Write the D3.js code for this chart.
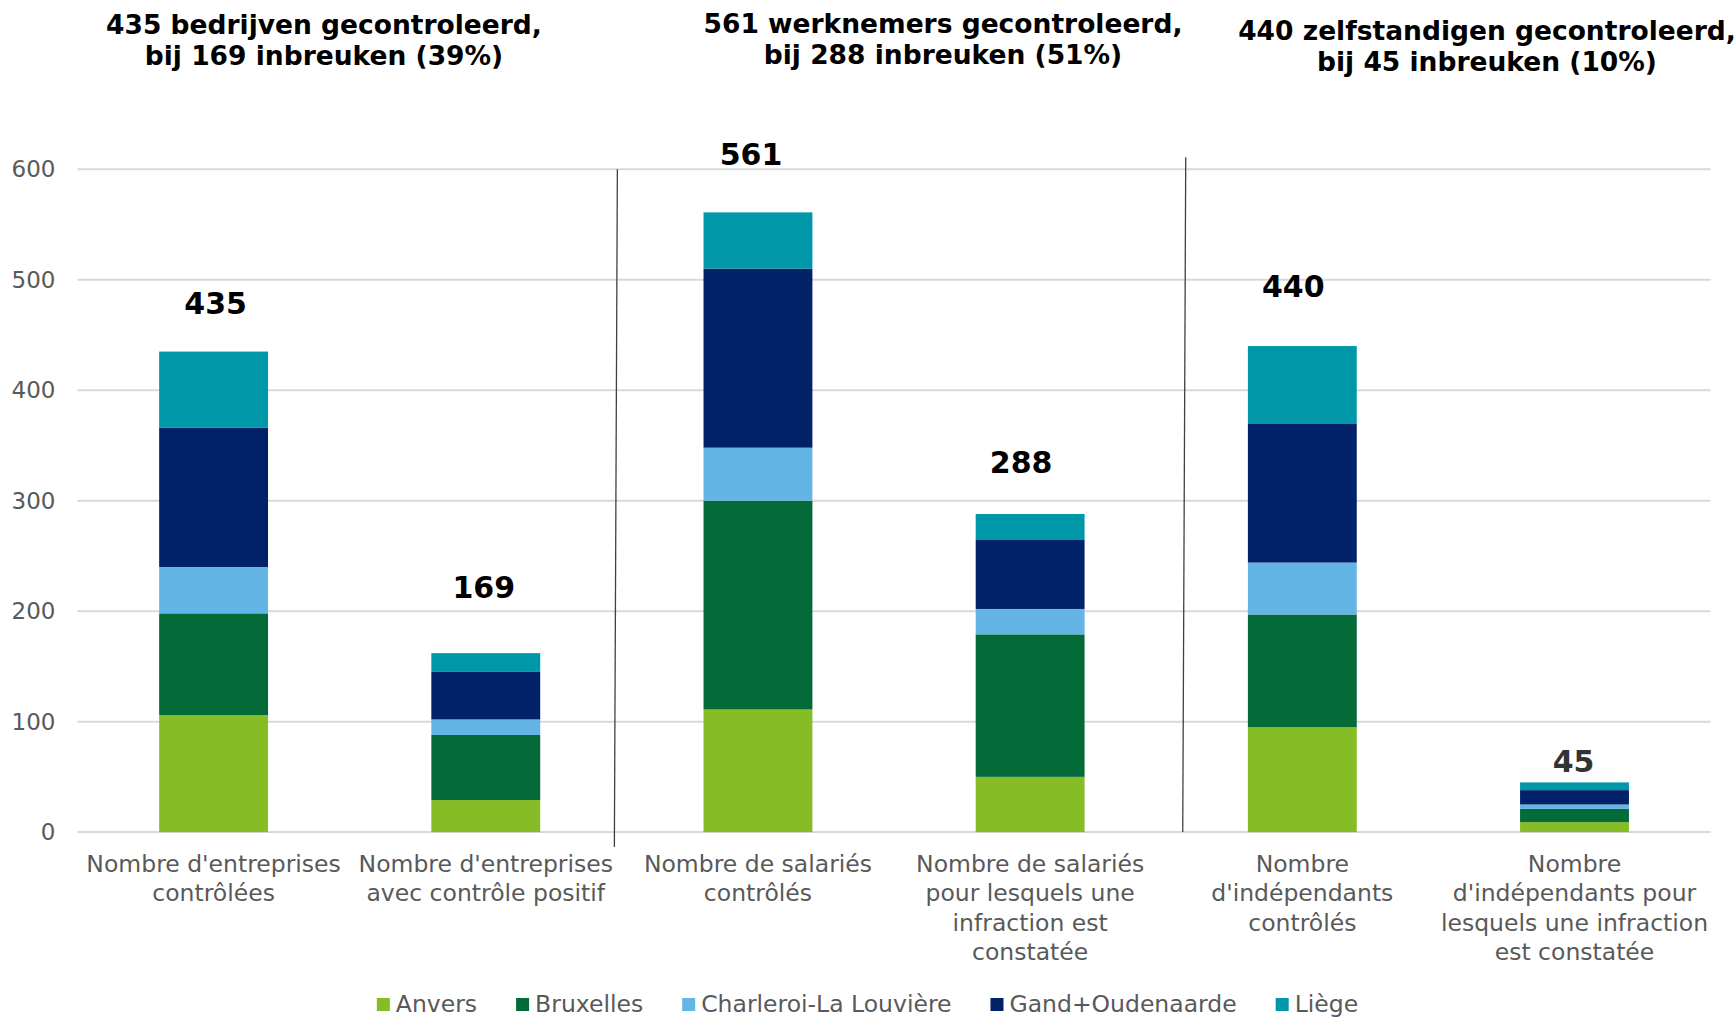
<!DOCTYPE html>
<html>
<head>
<meta charset="utf-8">
<script src="https://cdn.jsdelivr.net/npm/d3@7"></script>
<style>
  body { margin: 0; background: #fff; }
  svg { display: block; font-family: Verdana, "DejaVu Sans", sans-serif; }
</style>
</head>
<body>
<div id="chart"></div>
<script>
// categories (x axis), one line per array item
var categories = [
  ["Nombre d'entreprises", "contrôlées"],
  ["Nombre d'entreprises", "avec contrôle positif"],
  ["Nombre de salariés", "contrôlés"],
  ["Nombre de salariés", "pour lesquels une", "infraction est", "constatée"],
  ["Nombre", "d'indépendants", "contrôlés"],
  ["Nombre", "d'indépendants pour", "lesquels une infraction", "est constatée"]
];
var regions = ["Anvers", "Bruxelles", "Charleroi-La Louvière", "Gand+Oudenaarde", "Liège"];
var colors  = ["#86bc25", "#046a38", "#62b5e5", "#012169", "#0097a9"];

// values per region, one per category
var anvers    = [106, 29, 111, 50, 95, 9];
var bruxelles = [92, 59, 189, 129, 102, 12];
var charleroi = [42, 14, 48, 23, 47, 4];
var gand      = [126, 43, 162, 63, 126, 13];
var liege     = [69, 17, 51, 23, 70, 7];

var totals = [435, 169, 561, 288, 440, 45];
var yTicks = [0, 100, 200, 300, 400, 500, 600];

var headers = [
  ["435 bedrijven gecontroleerd,", "bij 169 inbreuken (39%)"],
  ["561 werknemers gecontroleerd,", "bij 288 inbreuken (51%)"],
  ["440 zelfstandigen gecontroleerd,", "bij 45 inbreuken (10%)"]
];

var width = 1735, height = 1017;
var plotLeft = 77.5, plotRight = 1710.6, plotTop = 169.3, plotBottom = 832.1;

var svg = d3.select("#chart").append("svg")
    .attr("width", width)
    .attr("height", height);

var keys = d3.range(categories.length);
var x = d3.scaleBand().domain(keys).range([plotLeft, plotRight])
    .paddingInner(0.6).paddingOuter(0.3);
var y = d3.scaleLinear().domain([0, 600]).range([plotBottom, plotTop]);

// gridlines
svg.append("g").selectAll("line")
  .data(yTicks)
  .enter().append("line")
    .attr("x1", plotLeft).attr("x2", plotRight)
    .attr("y1", function(d) { return y(d); })
    .attr("y2", function(d) { return y(d); })
    .attr("stroke", "#d9d9d9")
    .attr("stroke-width", 2);

// y axis labels
var yAxis = svg.append("g")
    .attr("transform", "translate(" + plotLeft + ",0)")
    .call(d3.axisLeft(y).tickValues(yTicks).tickSize(0).tickPadding(22));
yAxis.select(".domain").remove();
yAxis.selectAll("text")
    .attr("font-family", "Verdana, 'DejaVu Sans', sans-serif")
    .attr("font-size", 23)
    .attr("fill", "#595959");

// stacked bars
var rows = keys.map(function(i) {
  return { i: i, Anvers: anvers[i], Bruxelles: bruxelles[i],
    "Charleroi-La Louvière": charleroi[i], "Gand+Oudenaarde": gand[i], "Liège": liege[i] };
});
var series = d3.stack().keys(regions)(rows);

svg.append("g").selectAll("g")
  .data(series)
  .enter().append("g")
    .attr("fill", function(d, k) { return colors[k]; })
  .selectAll("rect")
  .data(function(d) { return d; })
  .enter().append("rect")
    .attr("x", function(d) { return x(d.data.i); })
    .attr("width", x.bandwidth())
    .attr("y", function(d) { return y(d[1]); })
    .attr("height", function(d) { return y(d[0]) - y(d[1]); });

// total labels above the bars (hand placed in the original, hence the nudges)
var labelLift = [37.5, 47.5, 47.5, 40.5, 49.5, 10];
var labelShift = [2, -2, -7, -9, -9, -1];
svg.append("g").selectAll("text")
  .data(totals)
  .enter().append("text")
    .attr("x", function(d, i) { return x(i) + x.bandwidth() / 2 + labelShift[i]; })
    .attr("y", function(d, i) { return y(d) - labelLift[i]; })
    .attr("text-anchor", "middle")
    .attr("font-size", 30)
    .attr("font-weight", "bold")
    .attr("fill", function(d, i) { return i == 5 ? "#333333" : "#000"; })
    .text(function(d) { return d; });

// category labels
var cat = svg.append("g").selectAll("text")
  .data(categories)
  .enter().append("text")
    .attr("x", function(d, i) { return x(i) + x.bandwidth() / 2; })
    .attr("y", plotBottom + 40)
    .attr("text-anchor", "middle")
    .attr("font-size", 23.5)
    .attr("fill", "#595959");
cat.selectAll("tspan")
  .data(function(d) { return d; })
  .enter().append("tspan")
    .attr("x", function() { return d3.select(this.parentNode).attr("x"); })
    .attr("dy", function(d, j) { return j == 0 ? 0 : 29.3; })
    .text(function(d) { return d; });

// section separators
var step = x.step();
var sep = [
  { x: x(1) + x.bandwidth() / 2 + step / 2 - 6, y1: y(600), y2: plotBottom + 15 },
  { x: x(3) + x.bandwidth() / 2 + step / 2 + 18, y1: y(600) - 12, y2: plotBottom }
];
svg.append("g").selectAll("line")
  .data(sep)
  .enter().append("line")
    .attr("x1", function(d) { return d.x + 1.5; })
    .attr("x2", function(d) { return d.x - 1.5; })
    .attr("y1", function(d) { return d.y1; })
    .attr("y2", function(d) { return d.y2; })
    .attr("stroke", "#404040")
    .attr("stroke-width", 1.3);

// section headers
var headerX = [324, 943, 1487];
var headerY = [34, 33, 39.5];
var hdr = svg.append("g").selectAll("text")
  .data(headers)
  .enter().append("text")
    .attr("x", function(d, i) { return headerX[i]; })
    .attr("y", function(d, i) { return headerY[i]; })
    .attr("text-anchor", "middle")
    .attr("font-size", 26.5)
    .attr("font-weight", "bold")
    .attr("fill", "#000");
hdr.selectAll("tspan")
  .data(function(d) { return d; })
  .enter().append("tspan")
    .attr("x", function() { return d3.select(this.parentNode).attr("x"); })
    .attr("dy", function(d, j) { return j == 0 ? 0 : 31; })
    .text(function(d) { return d; });

// legend
var legend = svg.append("g");
var items = legend.selectAll("g")
  .data(regions)
  .enter().append("g");
items.append("rect")
    .attr("width", 13).attr("height", 13)
    .attr("y", 998)
    .attr("fill", function(d, k) { return colors[k]; });
items.append("text")
    .attr("x", 19)
    .attr("y", 1012)
    .attr("font-size", 23.5)
    .attr("fill", "#595959")
    .text(function(d) { return d; });
var pos = 0;
items.each(function() {
  var w = d3.select(this).select("text").node().getComputedTextLength();
  d3.select(this).attr("transform", "translate(" + pos + ",0)");
  pos += 19 + w + 39;
});
pos -= 39;
legend.attr("transform", "translate(" + (width / 2 - pos / 2) + ",0)");
</script>
</body>
</html>
